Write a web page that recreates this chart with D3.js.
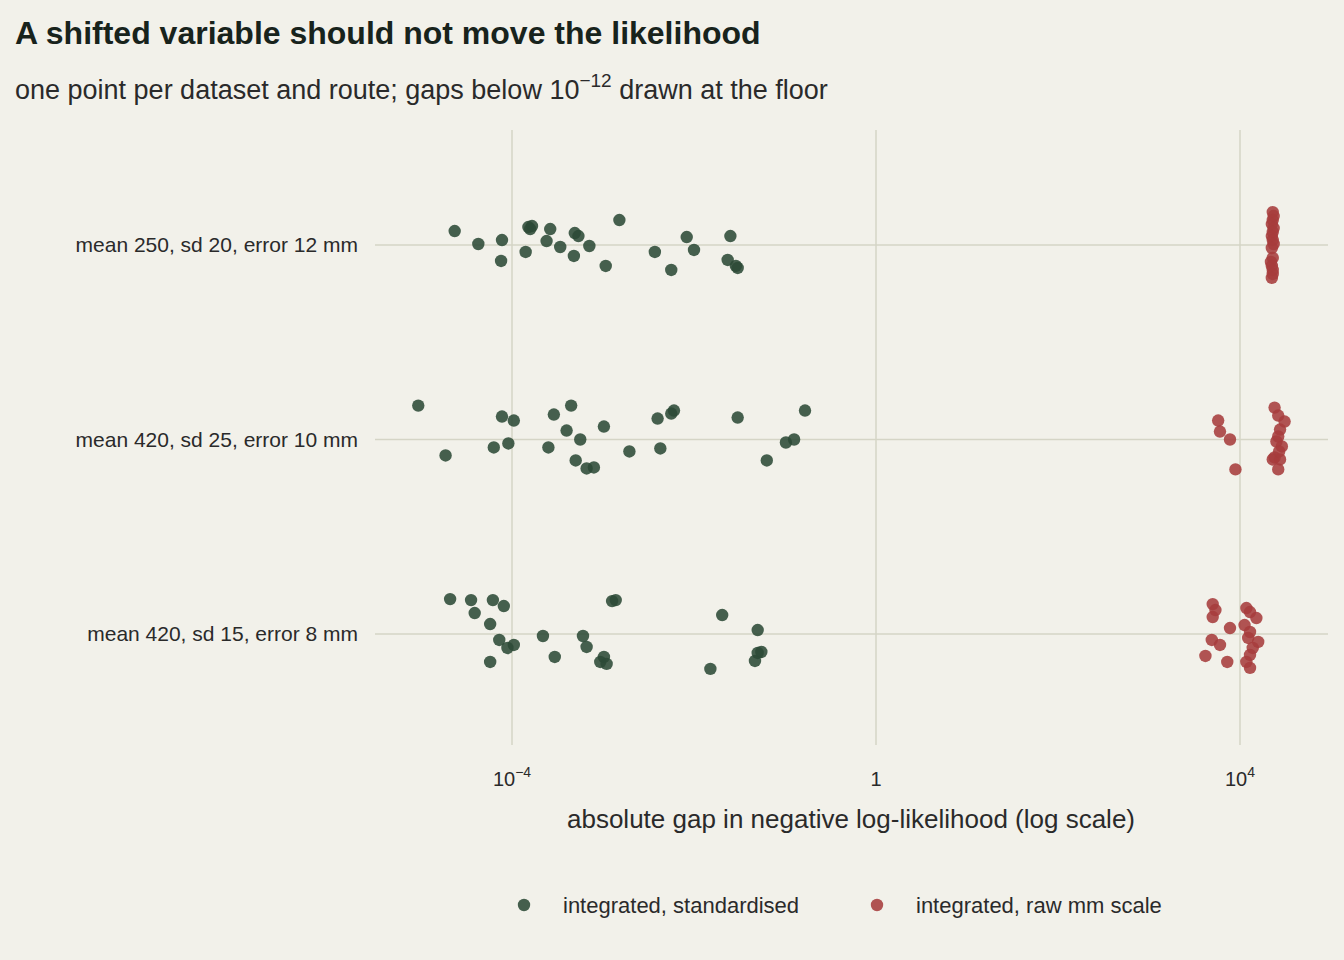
<!DOCTYPE html>
<html><head><meta charset="utf-8">
<script src="https://cdn.jsdelivr.net/npm/d3@7"></script>
<style>body{margin:0;background:#f2f1ea}</style>
</head><body>
<script>
// datasets, top to bottom
const datasets = ["mean 250, sd 20, error 12 mm", "mean 420, sd 25, error 10 mm", "mean 420, sd 15, error 8 mm"]
const routes = ["integrated, standardised", "integrated, raw mm scale"]
const colors = ["#2c4a37", "#a63c3c"]

// log10 gap and vertical jitter (fraction of row spacing), per dataset
const stdLog = [
  [-4.63,-4.37,-4.11,-4.12,-3.85,-3.82,-3.78,-3.80,-3.62,-3.58,-3.47,-3.32,-3.31,-3.27,-3.15,-2.97,-2.82,-2.43,-2.25,-2.08,-2.00,-1.63,-1.60,-1.54,-1.52],
  [-5.03,-4.73,-4.20,-4.11,-4.04,-3.98,-3.60,-3.54,-3.40,-3.35,-3.30,-3.25,-3.18,-3.10,-2.99,-2.71,-2.40,-2.37,-2.25,-2.22,-1.52,-1.20,-0.99,-0.90,-0.78],
  [-4.68,-4.45,-4.41,-4.24,-4.21,-4.14,-4.09,-4.24,-4.05,-3.98,-3.66,-3.53,-3.22,-3.18,-3.03,-2.99,-2.96,-2.90,-2.86,-1.82,-1.69,-1.33,-1.30,-1.30,-1.26]
]
const stdJit = [
  [-14,-1,-5,16,7,-18,-19,-16,-4,-16,2,11,-12,-9,1,21,-25,7,25,-8,5,15,-9,21,23],
  [-34,16,8,-23,4,-19,8,-25,-9,-34,21,0,29,28,-13,12,-21,9,-26,-29,-22,21,3,0,-29],
  [-35,-34,-21,-10,-34,6,-28,28,14,11,2,23,2,13,28,23,30,-33,-34,35,-19,27,-4,19,18]
].map(r => r.map(v => v / 195))
const rawLog = [
  [4.36,4.37,4.36,4.35,4.37,4.36,4.35,4.36,4.37,4.35,4.36,4.34,4.35,4.36,4.36,4.35],
  [3.76,3.78,3.89,3.95,4.38,4.42,4.49,4.44,4.42,4.46,4.38,4.44,4.42,4.36,4.40,4.43],
  [3.70,3.73,3.70,3.62,3.69,3.78,3.86,3.89,4.07,4.11,4.18,4.05,4.11,4.09,4.20,4.14,4.11,4.07,4.11]
]
const rawJit = [
  [-33,-29,-25,-21,-17,-13,-9,-5,-1,3,13,17,21,25,29,33],
  [-19,-8,0,30,-32,-24,-18,-10,-3,7,18,20,30,20,2,12],
  [-30,-24,-17,22,6,11,28,-6,-26,-22,-16,-9,-2,4,8,14,21,28,34]
].map(r => r.map(v => v / 195))
const xTicks = [1e-4, 1, 1e4]

const W = 1344, H = 960
const svg = d3.select("body").append("svg").attr("width", W).attr("height", H)
  .style("font-family", "'Liberation Sans', Arial, sans-serif")
svg.append("rect").attr("width", W).attr("height", H).attr("fill", "#f2f1ea")

const x = d3.scaleLog().domain([1e-4, 1e4]).range([512, 1240])
const y = d3.scalePoint().domain(datasets).range([245, 634])
const step = y.step()
const plotL = 375, plotR = 1328, plotT = 130, plotB = 745

// grid
svg.append("g").selectAll("line").data(xTicks).join("line")
  .attr("x1", d => x(d)).attr("x2", d => x(d)).attr("y1", plotT).attr("y2", plotB)
  .attr("stroke", "#d5d5c6").attr("stroke-width", 1.5)
svg.append("g").selectAll("line").data(datasets).join("line")
  .attr("x1", plotL).attr("x2", plotR).attr("y1", d => y(d)).attr("y2", d => y(d))
  .attr("stroke", "#d5d5c6").attr("stroke-width", 1.5)

// points
const pts = []
datasets.forEach((ds, i) => {
  stdLog[i].forEach((v, j) => pts.push({ds, r: 0, v: Math.pow(10, v), j: stdJit[i][j]}))
  rawLog[i].forEach((v, j) => pts.push({ds, r: 1, v: Math.pow(10, v), j: rawJit[i][j]}))
})
svg.append("g").selectAll("circle").data(pts).join("circle")
  .attr("cx", d => x(d.v)).attr("cy", d => y(d.ds) + d.j * step)
  .attr("r", 6.2).attr("fill", d => colors[d.r]).attr("fill-opacity", 0.88)

// y labels
svg.append("g").selectAll("text").data(datasets).join("text")
  .attr("x", 358).attr("y", d => y(d) + 7).attr("text-anchor", "end")
  .attr("font-size", 21).attr("fill", "#2a2a2a").text(d => d)

// x tick labels
const xt = svg.append("g").selectAll("text").data(xTicks).join("text")
  .attr("x", d => x(d)).attr("y", 786).attr("text-anchor", "middle")
  .attr("font-size", 20).attr("fill", "#2a2a2a")
xt.each(function(d) {
  const t = d3.select(this)
  const e = Math.round(Math.log10(d))
  if (e === 0) { t.text("1"); return }
  t.append("tspan").text("10")
  t.append("tspan").attr("dy", -9).attr("font-size", 14).text(e < 0 ? "\u2212" + Math.abs(e) : e)
})

svg.append("text").attr("x", 851).attr("y", 828).attr("text-anchor", "middle")
  .attr("font-size", 26).attr("fill", "#2a2a2a")
  .text("absolute gap in negative log-likelihood (log scale)")

// titles
svg.append("text").attr("x", 15).attr("y", 44).attr("font-size", 32).attr("font-weight", "bold")
  .attr("fill", "#18231c").text("A shifted variable should not move the likelihood")
const st = svg.append("text").attr("x", 15).attr("y", 99).attr("font-size", 27).attr("fill", "#2a2a2a")
st.append("tspan").text("one point per dataset and route; gaps below 10")
st.append("tspan").attr("dy", -12).attr("font-size", 19).text("\u221212")
st.append("tspan").attr("dy", 12).text(" drawn at the floor")

// legend
const lg = svg.append("g").selectAll("g").data(routes).join("g")
  .attr("transform", (d, i) => `translate(${[524, 877][i]},905)`)
lg.append("circle").attr("r", 6.2).attr("fill", (d, i) => colors[i]).attr("fill-opacity", 0.88)
lg.append("text").attr("x", 39).attr("y", 8).attr("font-size", 22).attr("fill", "#2a2a2a").text(d => d)
</script>
</body></html>
